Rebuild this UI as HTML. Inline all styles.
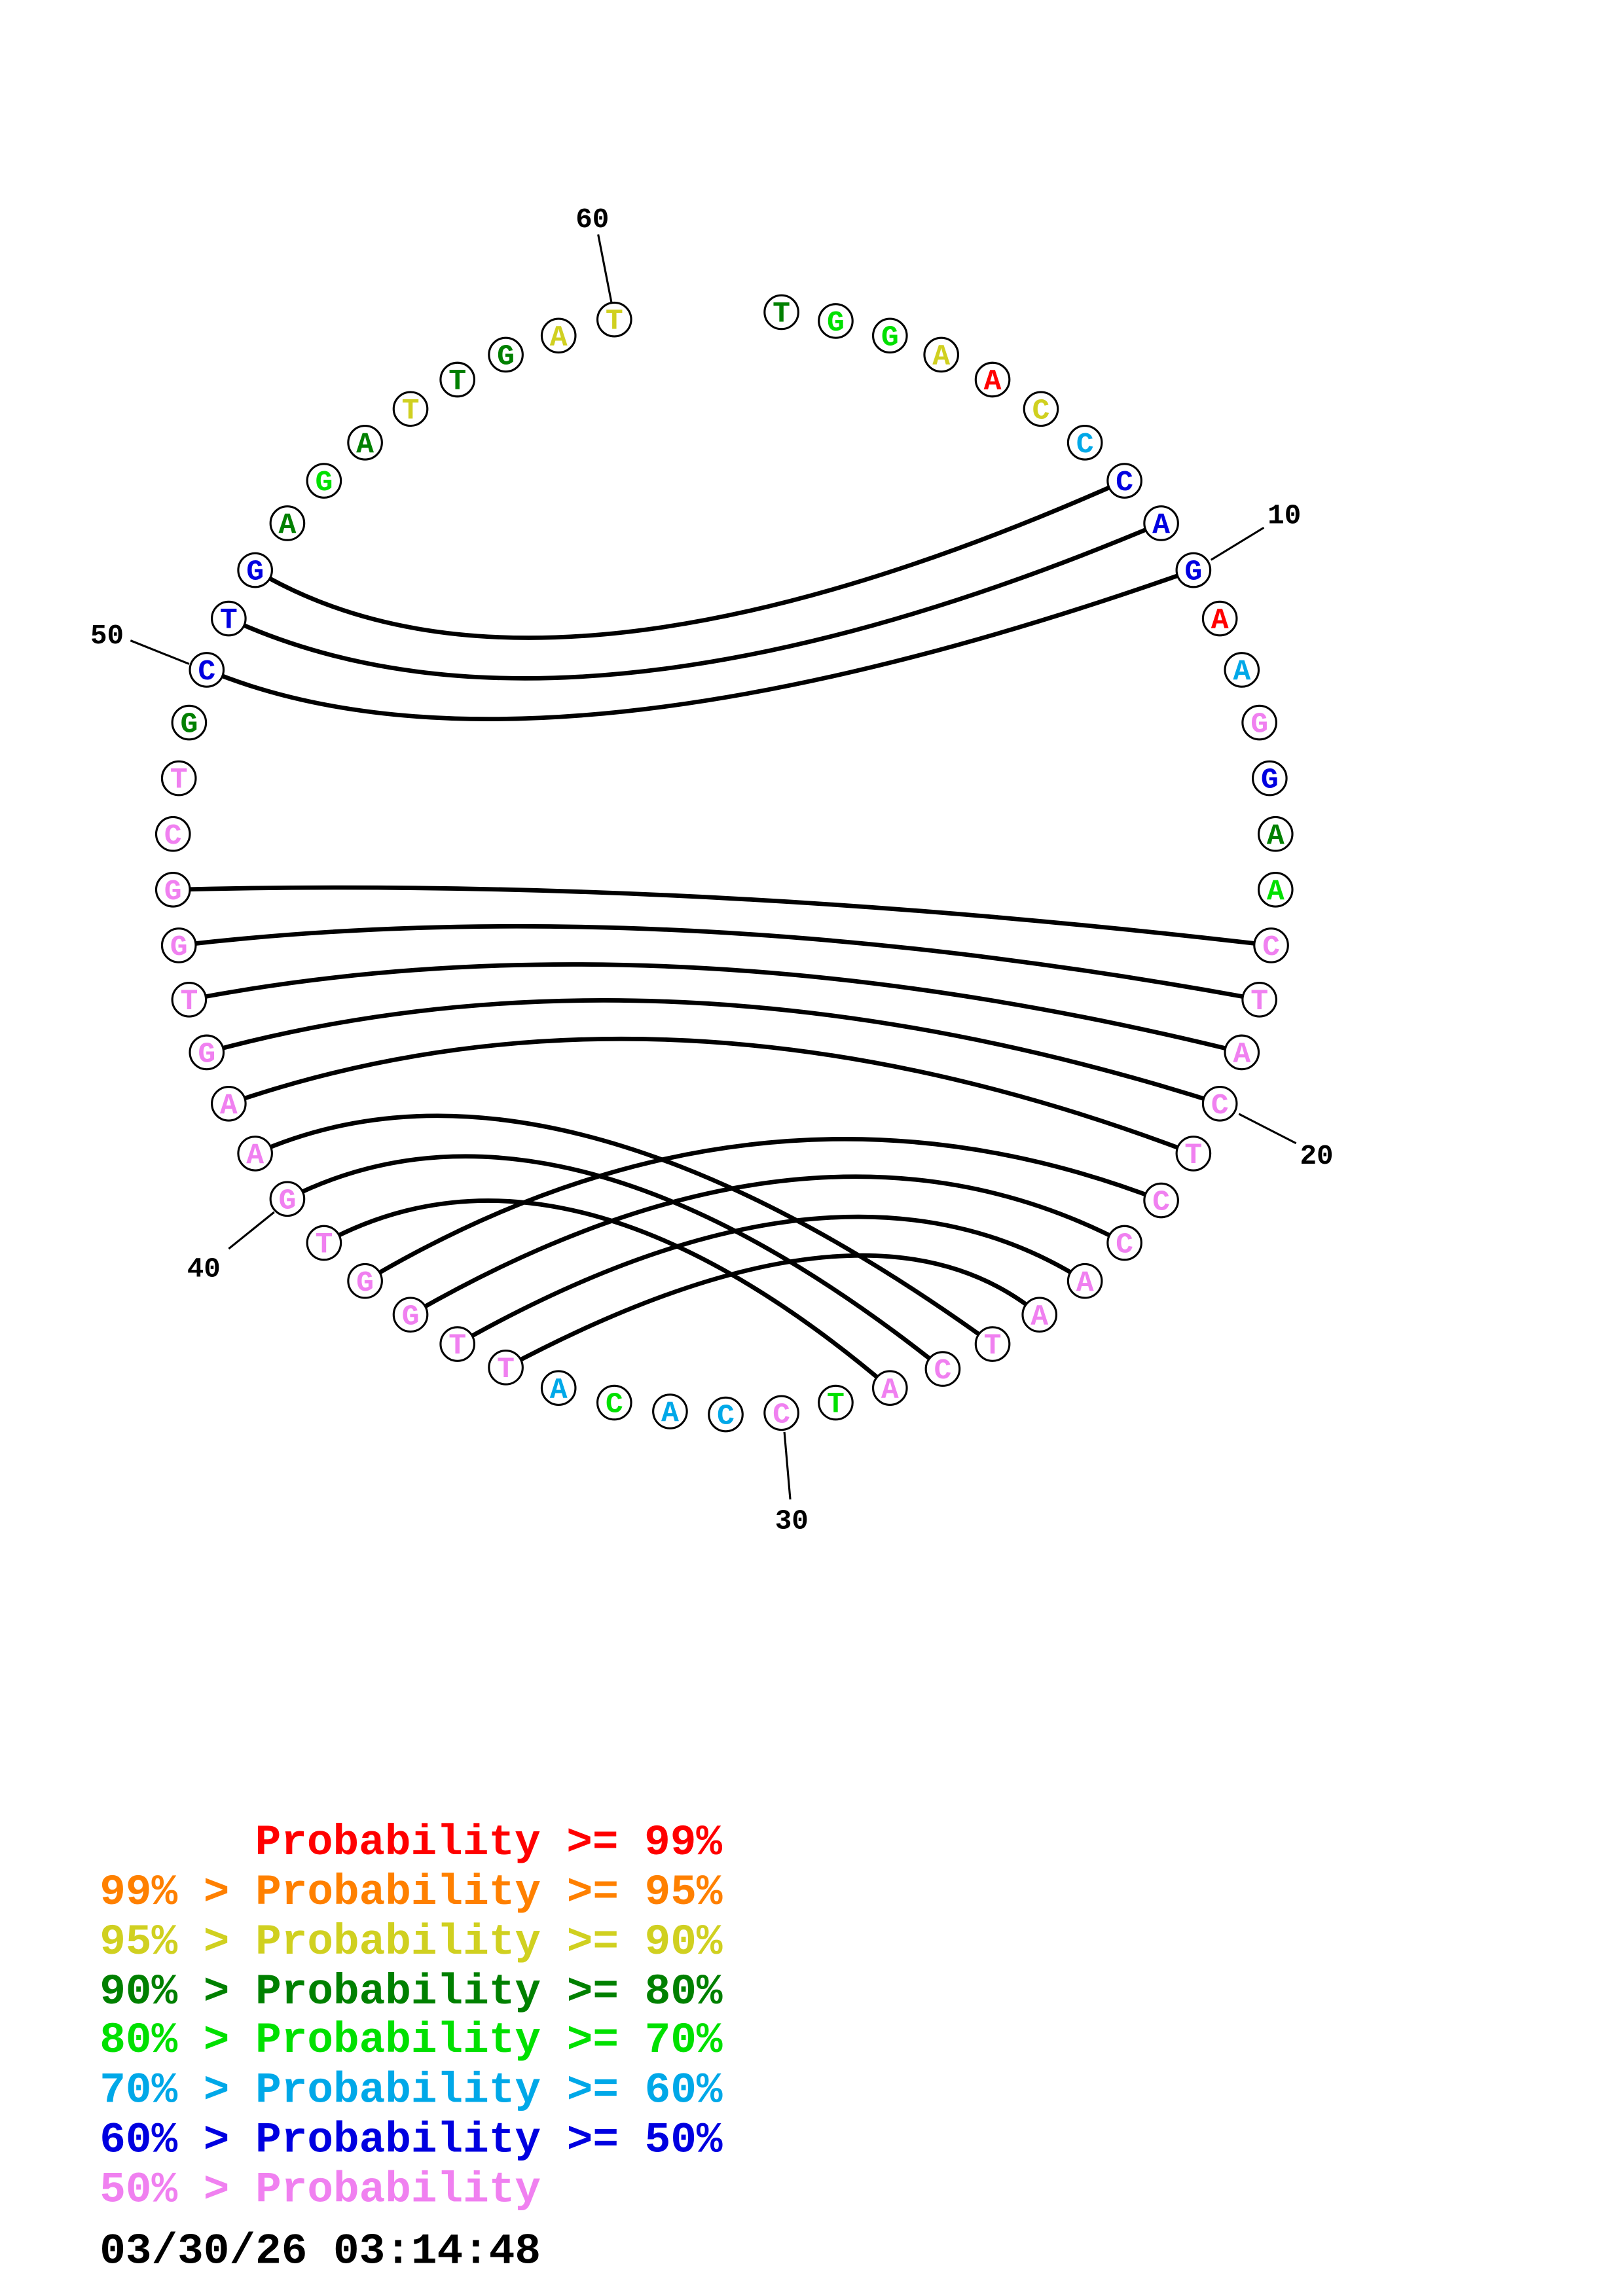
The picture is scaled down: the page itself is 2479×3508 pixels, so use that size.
<!DOCTYPE html>
<html><head><meta charset="utf-8"><style>
html,body{margin:0;padding:0;background:#fff;}
svg{display:block;}
text{font-family:"Liberation Mono",monospace;font-weight:bold;}
</style></head><body>
<svg width="2479" height="3508" viewBox="0 0 1107 1566.5" xmlns="http://www.w3.org/2000/svg">
<rect width="1107" height="1566.5" fill="#fff"/>
<g stroke="#000" stroke-width="1.4">
<line x1="408" y1="160" x2="417" y2="206"/>
<line x1="862" y1="360" x2="826" y2="382"/>
<line x1="89" y1="437" x2="129" y2="453"/>
<line x1="884" y1="780" x2="845" y2="760"/>
<line x1="156" y1="852" x2="187" y2="827"/>
<line x1="539" y1="1023" x2="535" y2="977"/>
</g>
<g font-size="19" fill="#000" text-anchor="middle">
<text x="404" y="155">60</text>
<text x="876" y="357">10</text>
<text x="73" y="439">50</text>
<text x="898" y="794">20</text>
<text x="139" y="871">40</text>
<text x="540" y="1043">30</text>
</g>
<g fill="none" stroke="#000" stroke-width="3">
<path d="M767 328 Q369.5 505.5 174 389"/>
<path d="M792 357 Q386 528.5 156 422"/>
<path d="M814 389 Q362.5 549 141 457"/>
<path d="M867 645 Q467.5 598 118 607"/>
<path d="M859 682 Q449.5 606.5 122 645"/>
<path d="M847 718 Q452 620 129 682"/>
<path d="M832 753 Q453.5 632.5 141 718"/>
<path d="M814 787 Q455 650 156 753"/>
<path d="M174 787 Q374.5 698 677 917"/>
<path d="M196 818 Q380.5 724 643 934"/>
<path d="M221 848 Q386 758.5 607 947"/>
<path d="M249 874 Q519.5 713.5 792 819"/>
<path d="M280 897 Q556.5 737.5 767 848"/>
<path d="M312 917 Q574 768.5 740 874"/>
<path d="M345 933 Q593 801 709 897"/>
</g>
<g fill="#fff" stroke="#000" stroke-width="1.4">
<circle cx="533" cy="213" r="11.5"/><circle cx="570" cy="219" r="11.5"/><circle cx="607" cy="229" r="11.5"/><circle cx="642" cy="242" r="11.5"/><circle cx="677" cy="259" r="11.5"/><circle cx="710" cy="279" r="11.5"/><circle cx="740" cy="302" r="11.5"/><circle cx="767" cy="328" r="11.5"/><circle cx="792" cy="357" r="11.5"/><circle cx="814" cy="389" r="11.5"/>
<circle cx="832" cy="422" r="11.5"/><circle cx="847" cy="457" r="11.5"/><circle cx="859" cy="493" r="11.5"/><circle cx="866" cy="531" r="11.5"/><circle cx="870" cy="569" r="11.5"/><circle cx="870" cy="607" r="11.5"/><circle cx="867" cy="645" r="11.5"/><circle cx="859" cy="682" r="11.5"/><circle cx="847" cy="718" r="11.5"/><circle cx="832" cy="753" r="11.5"/>
<circle cx="814" cy="787" r="11.5"/><circle cx="792" cy="819" r="11.5"/><circle cx="767" cy="848" r="11.5"/><circle cx="740" cy="874" r="11.5"/><circle cx="709" cy="897" r="11.5"/><circle cx="677" cy="917" r="11.5"/><circle cx="643" cy="934" r="11.5"/><circle cx="607" cy="947" r="11.5"/><circle cx="570" cy="957" r="11.5"/><circle cx="533" cy="964" r="11.5"/>
<circle cx="495" cy="965" r="11.5"/><circle cx="457" cy="963" r="11.5"/><circle cx="419" cy="957" r="11.5"/><circle cx="381" cy="947" r="11.5"/><circle cx="345" cy="933" r="11.5"/><circle cx="312" cy="917" r="11.5"/><circle cx="280" cy="897" r="11.5"/><circle cx="249" cy="874" r="11.5"/><circle cx="221" cy="848" r="11.5"/><circle cx="196" cy="818" r="11.5"/>
<circle cx="174" cy="787" r="11.5"/><circle cx="156" cy="753" r="11.5"/><circle cx="141" cy="718" r="11.5"/><circle cx="129" cy="682" r="11.5"/><circle cx="122" cy="645" r="11.5"/><circle cx="118" cy="607" r="11.5"/><circle cx="118" cy="569" r="11.5"/><circle cx="122" cy="531" r="11.5"/><circle cx="129" cy="493" r="11.5"/><circle cx="141" cy="457" r="11.5"/>
<circle cx="156" cy="422" r="11.5"/><circle cx="174" cy="389" r="11.5"/><circle cx="196" cy="357" r="11.5"/><circle cx="221" cy="328" r="11.5"/><circle cx="249" cy="302" r="11.5"/><circle cx="280" cy="279" r="11.5"/><circle cx="312" cy="259" r="11.5"/><circle cx="345" cy="242" r="11.5"/><circle cx="381" cy="229" r="11.5"/><circle cx="419" cy="218" r="11.5"/>
</g>
<g font-size="20" text-anchor="middle">
<text x="533" y="219.5" fill="#008000">T</text><text x="570" y="225.5" fill="#00e000">G</text><text x="607" y="235.5" fill="#00e000">G</text><text x="642" y="248.5" fill="#d0d020">A</text><text x="677" y="265.5" fill="#ff0000">A</text><text x="710" y="285.5" fill="#d0d020">C</text><text x="740" y="308.5" fill="#00a8e8">C</text><text x="767" y="334.5" fill="#0000e0">C</text><text x="792" y="363.5" fill="#0000e0">A</text><text x="814" y="395.5" fill="#0000e0">G</text>
<text x="832" y="428.5" fill="#ff0000">A</text><text x="847" y="463.5" fill="#00a8e8">A</text><text x="859" y="499.5" fill="#f080f0">G</text><text x="866" y="537.5" fill="#0000e0">G</text><text x="870" y="575.5" fill="#008000">A</text><text x="870" y="613.5" fill="#00e000">A</text><text x="867" y="651.5" fill="#f080f0">C</text><text x="859" y="688.5" fill="#f080f0">T</text><text x="847" y="724.5" fill="#f080f0">A</text><text x="832" y="759.5" fill="#f080f0">C</text>
<text x="814" y="793.5" fill="#f080f0">T</text><text x="792" y="825.5" fill="#f080f0">C</text><text x="767" y="854.5" fill="#f080f0">C</text><text x="740" y="880.5" fill="#f080f0">A</text><text x="709" y="903.5" fill="#f080f0">A</text><text x="677" y="923.5" fill="#f080f0">T</text><text x="643" y="940.5" fill="#f080f0">C</text><text x="607" y="953.5" fill="#f080f0">A</text><text x="570" y="963.5" fill="#00e000">T</text><text x="533" y="970.5" fill="#f080f0">C</text>
<text x="495" y="971.5" fill="#00a8e8">C</text><text x="457" y="969.5" fill="#00a8e8">A</text><text x="419" y="963.5" fill="#00e000">C</text><text x="381" y="953.5" fill="#00a8e8">A</text><text x="345" y="939.5" fill="#f080f0">T</text><text x="312" y="923.5" fill="#f080f0">T</text><text x="280" y="903.5" fill="#f080f0">G</text><text x="249" y="880.5" fill="#f080f0">G</text><text x="221" y="854.5" fill="#f080f0">T</text><text x="196" y="824.5" fill="#f080f0">G</text>
<text x="174" y="793.5" fill="#f080f0">A</text><text x="156" y="759.5" fill="#f080f0">A</text><text x="141" y="724.5" fill="#f080f0">G</text><text x="129" y="688.5" fill="#f080f0">T</text><text x="122" y="651.5" fill="#f080f0">G</text><text x="118" y="613.5" fill="#f080f0">G</text><text x="118" y="575.5" fill="#f080f0">C</text><text x="122" y="537.5" fill="#f080f0">T</text><text x="129" y="499.5" fill="#008000">G</text><text x="141" y="463.5" fill="#0000e0">C</text>
<text x="156" y="428.5" fill="#0000e0">T</text><text x="174" y="395.5" fill="#0000e0">G</text><text x="196" y="363.5" fill="#008000">A</text><text x="221" y="334.5" fill="#00e000">G</text><text x="249" y="308.5" fill="#008000">A</text><text x="280" y="285.5" fill="#d0d020">T</text><text x="312" y="265.5" fill="#008000">T</text><text x="345" y="248.5" fill="#008000">G</text><text x="381" y="235.5" fill="#d0d020">A</text><text x="419" y="224.5" fill="#d0d020">T</text>
</g>
<g font-size="29.5">
<text x="174" y="1265" fill="#ff0000">Probability &gt;= 99%</text>
<text x="68" y="1299" fill="#ff8000">99% &gt; Probability &gt;= 95%</text>
<text x="68" y="1333" fill="#d0d020">95% &gt; Probability &gt;= 90%</text>
<text x="68" y="1367" fill="#008000">90% &gt; Probability &gt;= 80%</text>
<text x="68" y="1400" fill="#00e000">80% &gt; Probability &gt;= 70%</text>
<text x="68" y="1434" fill="#00a8e8">70% &gt; Probability &gt;= 60%</text>
<text x="68" y="1468" fill="#0000e0">60% &gt; Probability &gt;= 50%</text>
<text x="68" y="1502" fill="#f080f0">50% &gt; Probability</text>
<text x="68" y="1544" fill="#000">03/30/26 03:14:48</text>
</g>
</svg>
</body></html>
